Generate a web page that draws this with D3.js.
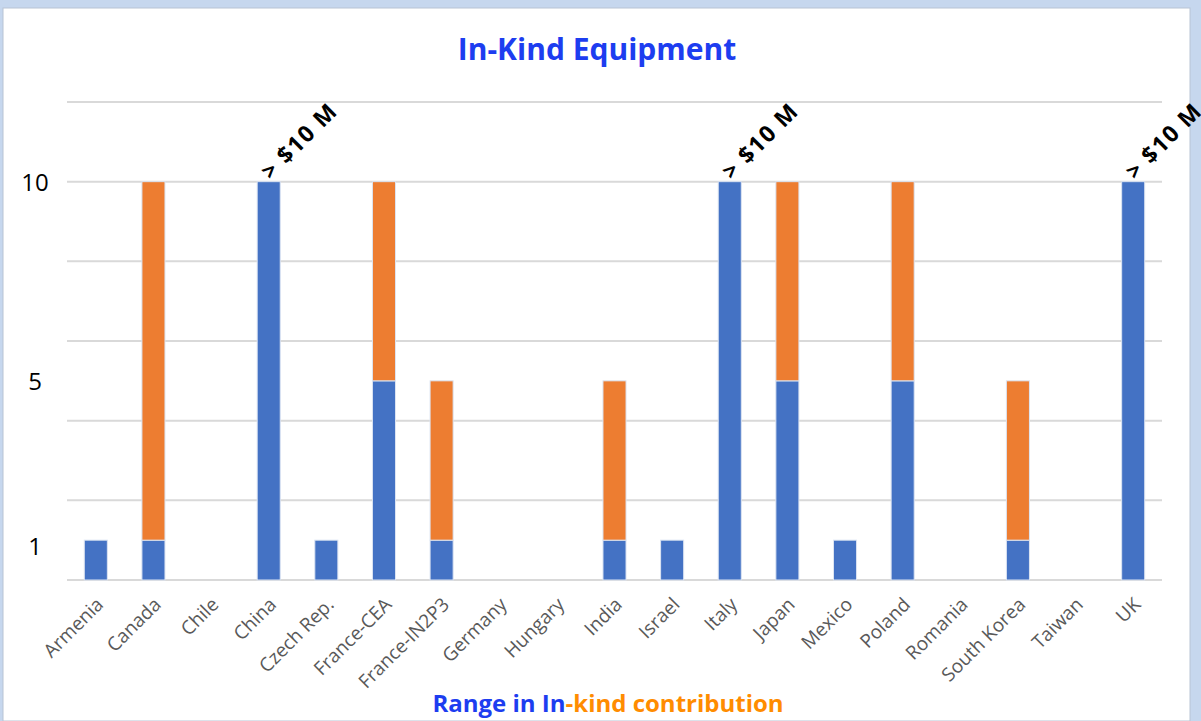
<!DOCTYPE html>
<html>
<head>
<meta charset="utf-8">
<style>
  body { margin: 0; background: #c6d7ee; }
  svg { display: block; }
</style>
</head>
<body>
<svg id="chart" width="1201" height="721"></svg>
<script src="https://d3js.org/d3.v7.min.js"></script>
<script>
const countries = ["Armenia","Canada","Chile","China","Czech Rep.","France-CEA","France-IN2P3","Germany","Hungary","India","Israel","Italy","Japan","Mexico","Poland","Romania","South Korea","Taiwan","UK"];
const blueVals   = [1,1,0,10,1,5,1,0,0,1,1,10,5,1,5,0,1,0,10];
const orangeVals = [0,9,0,0,0,5,4,0,0,4,0,0,5,0,5,0,4,0,0];
const overTen = ["China","Italy","UK"];
const yLabels = [1,5,10];
const gridVals = [0,2,4,6,8,10,12];

const svg = d3.select("#chart");

// white panel inside the light blue frame
svg.append("rect")
    .attr("x", 3).attr("y", 8)
    .attr("width", 1187).attr("height", 713)
    .style("fill", "white")
    .style("stroke", "#b8c4d4")
    .style("stroke-width", 1);

const x = d3.scaleBand()
    .domain(countries)
    .range([67, 1162])
    .paddingInner(0.6)
    .paddingOuter(0.3);

const y = d3.scaleLinear()
    .domain([0, 12])
    .range([580, 102]);

// gridlines
svg.selectAll(".grid")
    .data(gridVals)
    .enter()
    .append("line")
        .attr("x1", 67).attr("x2", 1162)
        .attr("y1", d => y(d)).attr("y2", d => y(d))
        .style("stroke", "#d9d9d9")
        .style("stroke-width", 2);

// stacked bars
const stack = d3.stack().keys(["blue","orange"])(
    countries.map((c, i) => ({ name: c, blue: blueVals[i], orange: orangeVals[i] }))
);
const colors = { blue: "#4472c4", orange: "#ed7d31" };

svg.selectAll(".layer")
    .data(stack)
    .enter()
    .append("g")
        .style("fill", d => colors[d.key])
    .selectAll("rect")
    .data(d => d.filter(s => s[1] > s[0]))
    .enter()
    .append("rect")
        .attr("x", d => x(d.data.name))
        .attr("width", x.bandwidth())
        .attr("y", d => y(d[1]))
        .attr("height", d => y(d[0]) - y(d[1]))
        .style("stroke", "#dce4f2")
        .style("stroke-width", 1);

// y labels (only 1, 5, 10)
svg.selectAll(".ylab")
    .data(yLabels)
    .enter()
    .append("text")
        .attr("x", 35)
        .attr("y", d => y(d) + (d === 1 ? 15 : 9))
        .attr("text-anchor", "middle")
        .style("font-family", "Open Sans, sans-serif")
        .style("font-size", "24px")
        .style("fill", "#000")
        .text(d => d);

// x labels rotated
svg.selectAll(".xlab")
    .data(countries)
    .enter()
    .append("text")
        .attr("transform", d => `translate(${x(d) + x.bandwidth()/2 + 4},${601}) rotate(-45)`)
        .attr("text-anchor", "end")
        .attr("dy", "0.35em")
        .style("font-family", "Open Sans, sans-serif")
        .style("font-size", "19px")
        .style("fill", "#595959")
        .text(d => d);

// "> $10 M" annotations
svg.selectAll(".note")
    .data(overTen)
    .enter()
    .append("text")
        .attr("transform", d => `translate(${x(d) + x.bandwidth()/2 + 2},${y(10) - 1}) rotate(-45)`)
        .attr("text-anchor", "start")
        .style("font-family", "Open Sans, sans-serif")
        .style("font-weight", "bold")
        .style("font-size", "23px")
        .style("letter-spacing", "1.5px")
        .style("fill", "#000")
        .text("> $10 M");

// title
svg.append("text")
    .attr("x", 597).attr("y", 60)
    .attr("text-anchor", "middle")
    .style("font-family", "Open Sans, sans-serif")
    .style("font-weight", "bold")
    .style("font-size", "30px")
    .style("fill", "#1d3df0")
    .text("In-Kind Equipment");

// axis title in two colours
const axTitle = svg.append("text")
    .attr("x", 608).attr("y", 712)
    .attr("text-anchor", "middle")
    .style("font-family", "Open Sans, sans-serif")
    .style("font-weight", "bold")
    .style("font-size", "24px");
axTitle.append("tspan").style("fill", "#1d3df0").text("Range in In");
axTitle.append("tspan").style("fill", "#ff8c00").text("-kind contribution");
</script>
</body>
</html>
